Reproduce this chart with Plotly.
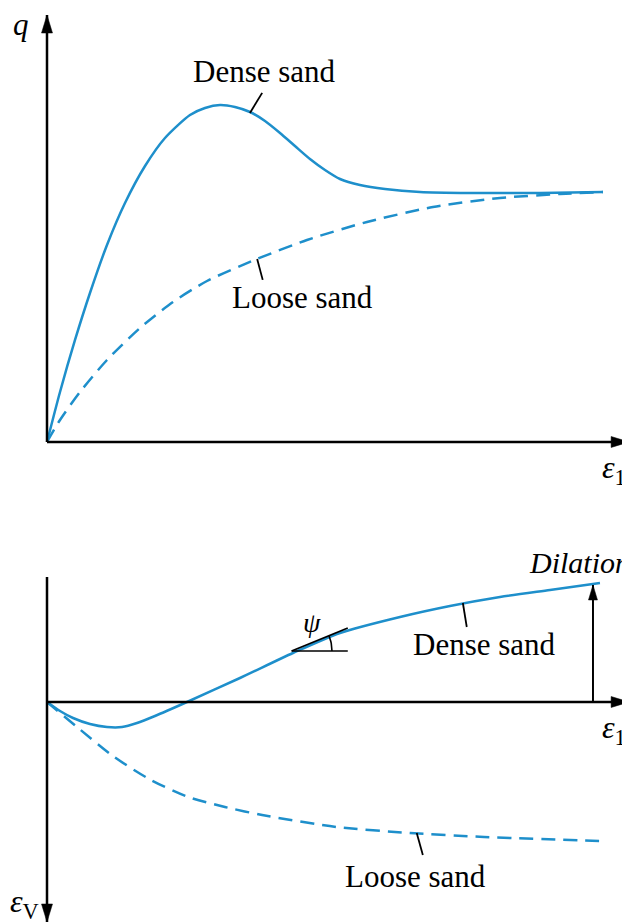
import math
import plotly.graph_objects as go

# ---------------- data (arbitrary schematic units) ----------------
# top panel: deviator stress q vs axial strain eps1
dense_q_x = [0, 0.234, 0.504, 0.773, 1.079, 1.403, 1.763, 2.122, 2.572, 2.842, 3.112, 3.381,
             3.651, 3.921, 4.191, 4.460, 4.730, 5.000, 5.270, 5.629, 6.079, 6.709, 7.608,
             8.867, 10.0]
dense_q_y = [0, 1.484, 3.027, 4.421, 5.846, 7.092, 8.190, 9.021, 9.703, 9.911, 10.0, 9.941,
             9.792, 9.525, 9.169, 8.783, 8.398, 8.071, 7.804, 7.626, 7.507, 7.418, 7.389,
             7.389, 7.418]
loose_q_x = [0, 0.234, 0.594, 1.079, 1.673, 2.266, 2.878, 3.777, 4.676, 5.755, 6.942, 8.147, 9.227, 10.0]
loose_q_y = [0, 0.653, 1.484, 2.433, 3.383, 4.154, 4.777, 5.430, 5.994, 6.528, 6.973, 7.240, 7.359, 7.418]

# bottom panel: volumetric strain epsV (compression positive, drawn downward)
dense_v_x = [0, 0.234, 0.468, 0.773, 1.079, 1.349, 1.619, 1.942, 2.518, 3.471, 4.424, 5.270,
             6.349, 7.248, 8.147, 9.047, 9.946]
dense_v_y = [0, 0.45, 0.8, 1.1, 1.25, 1.25, 1.05, 0.7, 0, -1.2, -2.45, -3.45,
             -4.25, -4.8, -5.25, -5.6, -5.95]
loose_v_x = [0, 0.54, 1.21, 1.87, 2.54, 3.20, 3.87, 5.20, 6.53, 7.86, 9.93]
loose_v_y = [0, 1.25, 2.75, 3.9, 4.75, 5.25, 5.65, 6.25, 6.55, 6.75, 6.95]

# axis extents
X_RANGE = [-0.7014, 10.486]
Q_RANGE = [-1.128, 12.878]
V_RANGE = [11.1, -11.1]
X_TIP = 10.47
Q_TIP = 12.67
V_TOP = -6.25
V_TIP = 11.0
DIL_X = 9.82
DIL_TIP = -5.85

BLUE = "#1E8FCB"
FONT = "Liberation Serif"

fig = go.Figure()

def curve(x, y, xa, ya, dash=None):
    fig.add_trace(go.Scatter(
        x=x, y=y, xaxis=xa, yaxis=ya, mode="lines",
        line=dict(color=BLUE, width=2.5, shape="spline", smoothing=0.7,
                  dash=dash if dash else "solid"),
        hoverinfo="skip", showlegend=False, cliponaxis=False))

curve(dense_q_x, dense_q_y, "x", "y")
curve(loose_q_x, loose_q_y, "x", "y", dash="14px,8px")
curve(dense_v_x, dense_v_y, "x2", "y2")
curve(loose_v_x, loose_v_y, "x2", "y2", dash="14px,8px")

shapes = []

def line(x0, y0, x1, y1, xr, yr, w=2.5):
    shapes.append(dict(type="line", xref=xr, yref=yr, x0=x0, y0=y0, x1=x1, y1=y1,
                       line=dict(color="black", width=w)))

def head(x, y, xr, yr, direction, L=18, W=5.5):
    paths = {
        "up": f"M0,0 L{-W},{-L} L{W},{-L} Z",
        "down": f"M0,0 L{-W},{L} L{W},{L} Z",
        "right": f"M0,0 L{-L},{W} L{-L},{-W} Z",
    }
    shapes.append(dict(type="path", xref=xr, yref=yr, xsizemode="pixel", ysizemode="pixel",
                       xanchor=x, yanchor=y, path=paths[direction],
                       fillcolor="black", line=dict(color="black", width=0.5)))

# top axes
line(0, 0, 0, Q_TIP, "x", "y")
head(0, Q_TIP, "x", "y", "up")
line(0, 0, X_TIP, 0, "x", "y")
head(X_TIP, 0, "x", "y", "right")
# bottom axes
line(0, V_TOP, 0, V_TIP, "x2", "y2")
head(0, V_TIP, "x2", "y2", "down")
line(0, 0, X_TIP, 0, "x2", "y2")
head(X_TIP, 0, "x2", "y2", "right")
# dilation arrow
line(DIL_X, 0, DIL_X, DIL_TIP, "x2", "y2", w=2)
head(DIL_X, DIL_TIP, "x2", "y2", "up", L=15, W=4.5)

# leader ticks
line(3.65, 9.76, 3.87, 10.36, "x", "y", w=1.8)
line(3.78, 5.43, 3.88, 4.81, "x", "y", w=1.8)
line(7.48, -4.95, 7.55, -3.75, "x2", "y2", w=1.8)
line(6.65, 6.55, 6.76, 7.65, "x2", "y2", w=1.8)

# psi construction (tangent, horizontal, arc)
line(4.40, -2.55, 5.41, -3.7, "x2", "y2", w=1.8)
line(4.40, -2.55, 5.41, -2.55, "x2", "y2", w=1.6)
cx_px, cy_px, r = 292.0, 651.0, 40.0
arc_x, arc_y = [], []
for k in range(9):
    a = math.radians(22 * k / 8)
    px = cx_px + r * math.cos(a)
    py = cy_px - r * math.sin(a)
    arc_x.append((px - 47) / 55.6)
    arc_y.append((py - 702) / 20.0)
fig.add_trace(go.Scatter(x=arc_x, y=arc_y, xaxis="x2", yaxis="y2", mode="lines",
                         line=dict(color="black", width=1.6), hoverinfo="skip",
                         showlegend=False))

anns = []

def text(x, y, s, xr, yr, size=31, xanchor="center"):
    anns.append(dict(x=x, y=y, xref=xr, yref=yr, text=s, showarrow=False,
                     xanchor=xanchor, yanchor="middle",
                     font=dict(family=FONT, size=size, color="black")))

text(3.92, 10.98, "Dense sand", "x", "y")
text(4.59, 4.30, "Loose sand", "x", "y")
text(7.86, -2.85, "Dense sand", "x2", "y2")
text(6.62, 8.75, "Loose sand", "x2", "y2")
text(8.63, -6.95, "<i>Dilation</i>", "x2", "y2", size=30, xanchor="left")
text(-0.47, 12.38, "<i>q</i>", "x", "y", size=31)
text(9.95, -0.83, "<i>ε</i><sub>1</sub>", "x", "y", size=32, xanchor="left")
text(9.95, 1.4, "<i>ε</i><sub>1</sub>", "x2", "y2", size=32, xanchor="left")
text(-0.70, 10.1, "<i>ε</i><sub>V</sub>", "x2", "y2", size=32, xanchor="left")
text(4.76, -3.95, "<i>ψ</i>", "x2", "y2", size=28)

ax_common = dict(visible=False, showgrid=False, zeroline=False, fixedrange=True)
fig.update_layout(
    width=622, height=916,
    margin=dict(l=0, r=0, t=0, b=0),
    paper_bgcolor="white", plot_bgcolor="white",
    xaxis=dict(domain=[0, 1], range=X_RANGE, anchor="y", **ax_common),
    yaxis=dict(domain=[0.48472, 1], range=Q_RANGE, anchor="x", **ax_common),
    xaxis2=dict(domain=[0, 1], range=X_RANGE, anchor="y2", **ax_common),
    yaxis2=dict(domain=[0, 0.48472], range=V_RANGE, anchor="x2", **ax_common),
    shapes=shapes, annotations=anns, showlegend=False,
)

fig.write_html("out.html")
